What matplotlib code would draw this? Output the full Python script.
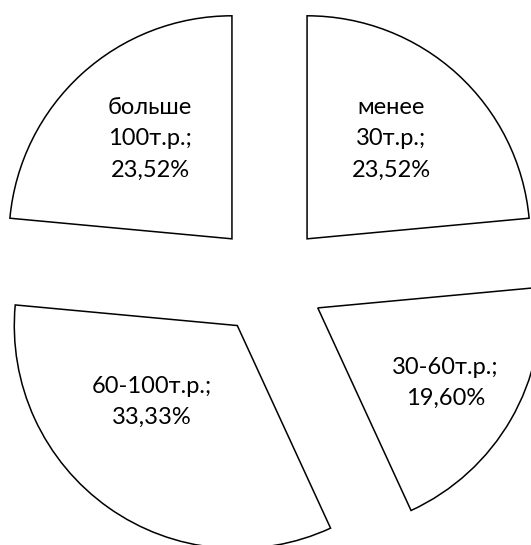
import numpy as np
import matplotlib
matplotlib.use('Agg')
import matplotlib.pyplot as plt

plt.rcParams['font.family'] = ['Lato', 'DejaVu Sans']

cats = ['менее\n30т.р.;', '30-60т.р.;', '60-100т.р.;', 'больше\n100т.р.;']
shares = [23.52, 19.60, 33.33, 23.52]
pct_labels = ['23,52%', '19,60%', '33,33%', '23,52%']

# label placement inside each wedge: (fraction of radius, angle shift in deg)
lab_pos = [(0.586, 2.3), (0.665, -0.5), (0.514, -13.0), (0.58, -3.0)]

fig = plt.figure(figsize=(5.31, 5.45), dpi=100)
ax = fig.add_axes([0, 0, 1, 1])

wedges, _ = ax.pie(shares, explode=[0.25] * 4, startangle=90, counterclock=False,
                   wedgeprops=dict(facecolor='white', edgecolor='black', linewidth=1.1))

for w, c, p, (r, sh) in zip(wedges, cats, pct_labels, lab_pos):
    mid = np.deg2rad((w.theta1 + w.theta2) / 2 + sh)
    x = w.center[0] + r * np.cos(mid)
    y = w.center[1] + r * np.sin(mid)
    ax.text(x, y, c + '\n' + p, ha='center', va='center', fontsize=17,
            linespacing=1.6, color='black')

ax.set_xlim(-1.2085, 1.1726)
ax.set_ylim(-1.188, 1.2556)
ax.set_aspect('auto')
ax.axis('off')

fig.savefig('out.png', dpi=100, facecolor='white')
